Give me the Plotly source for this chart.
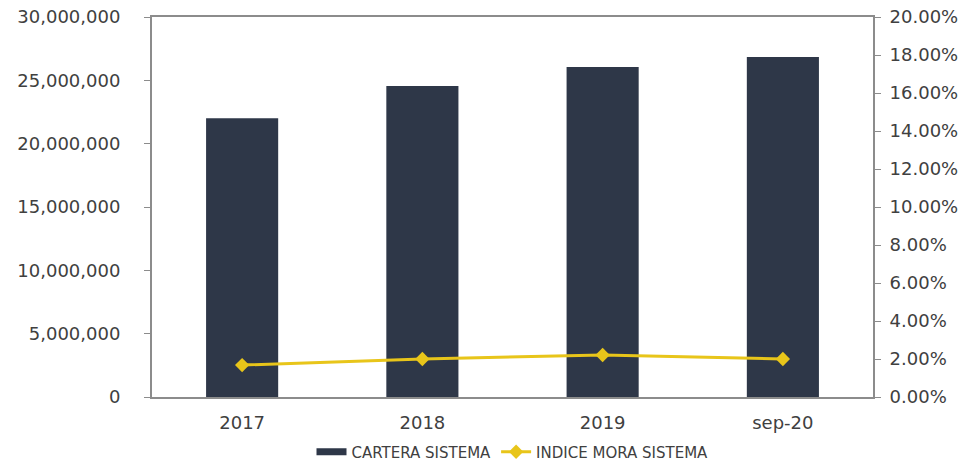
import plotly.graph_objects as go

categories = ["2017", "2018", "2019", "sep-20"]
cartera_sistema = [22000000, 24550000, 26050000, 26840000]
indice_mora = [0.0168, 0.0200, 0.0221, 0.0200]

left_ticks = [0, 5000000, 10000000, 15000000, 20000000, 25000000, 30000000]
right_ticks = [i / 100 for i in range(0, 21, 2)]

bar_color = "#2E3748"
line_color = "#E8C51A"
text_color = "#404040"
frame_color = "#8C8C8C"

fig = go.Figure()
fig.add_trace(go.Bar(
    x=categories, y=cartera_sistema, name="CARTERA SISTEMA",
    marker=dict(color=bar_color, line=dict(width=0)), width=0.4,
    showlegend=False,
))
# legend key for the bars drawn as a wide flat band
fig.add_trace(go.Scatter(
    x=[None], y=[None], name="CARTERA SISTEMA", mode="lines",
    line=dict(color=bar_color, width=7),
))
fig.add_trace(go.Scatter(
    x=categories, y=indice_mora, name="INDICE MORA SISTEMA", yaxis="y2",
    mode="lines+markers",
    line=dict(color=line_color, width=3),
    marker=dict(symbol="diamond", size=11, color=line_color),
))

font = dict(family="DejaVu Sans, sans-serif", size=18, color=text_color)

fig.update_layout(
    width=973, height=466,
    margin=dict(l=152, r=100, t=17, b=69, autoexpand=False),
    paper_bgcolor="white", plot_bgcolor="white",
    font=font,
    showlegend=True,
    legend=dict(orientation="h", x=0.5, xanchor="center",
                yref="container", y=0.03, yanchor="middle",
                font=dict(family="DejaVu Sans, sans-serif", size=15, color=text_color),
                itemwidth=30, tracegroupgap=0),
    xaxis=dict(
        showline=True, linecolor=frame_color, linewidth=2, mirror=True,
        ticks="outside", ticklen=8, tickcolor="rgba(0,0,0,0)",
        showgrid=False, tickfont=font,
    ),
    yaxis=dict(
        range=[0, 30000000], tickvals=left_ticks, tickformat=",d",
        showline=True, linecolor=frame_color, linewidth=2,
        ticks="outside", ticklen=6, tickcolor=frame_color,
        ticklabelstandoff=20,
        showgrid=False, zeroline=False, tickfont=font,
    ),
    yaxis2=dict(
        range=[0, 0.20], tickvals=right_ticks, tickformat=".2%",
        overlaying="y", side="right",
        showline=True, linecolor=frame_color, linewidth=2,
        ticks="outside", ticklen=6, tickcolor=frame_color,
        ticklabelstandoff=5,
        showgrid=False, zeroline=False, tickfont=font,
    ),
)

fig.write_html("out.html")
